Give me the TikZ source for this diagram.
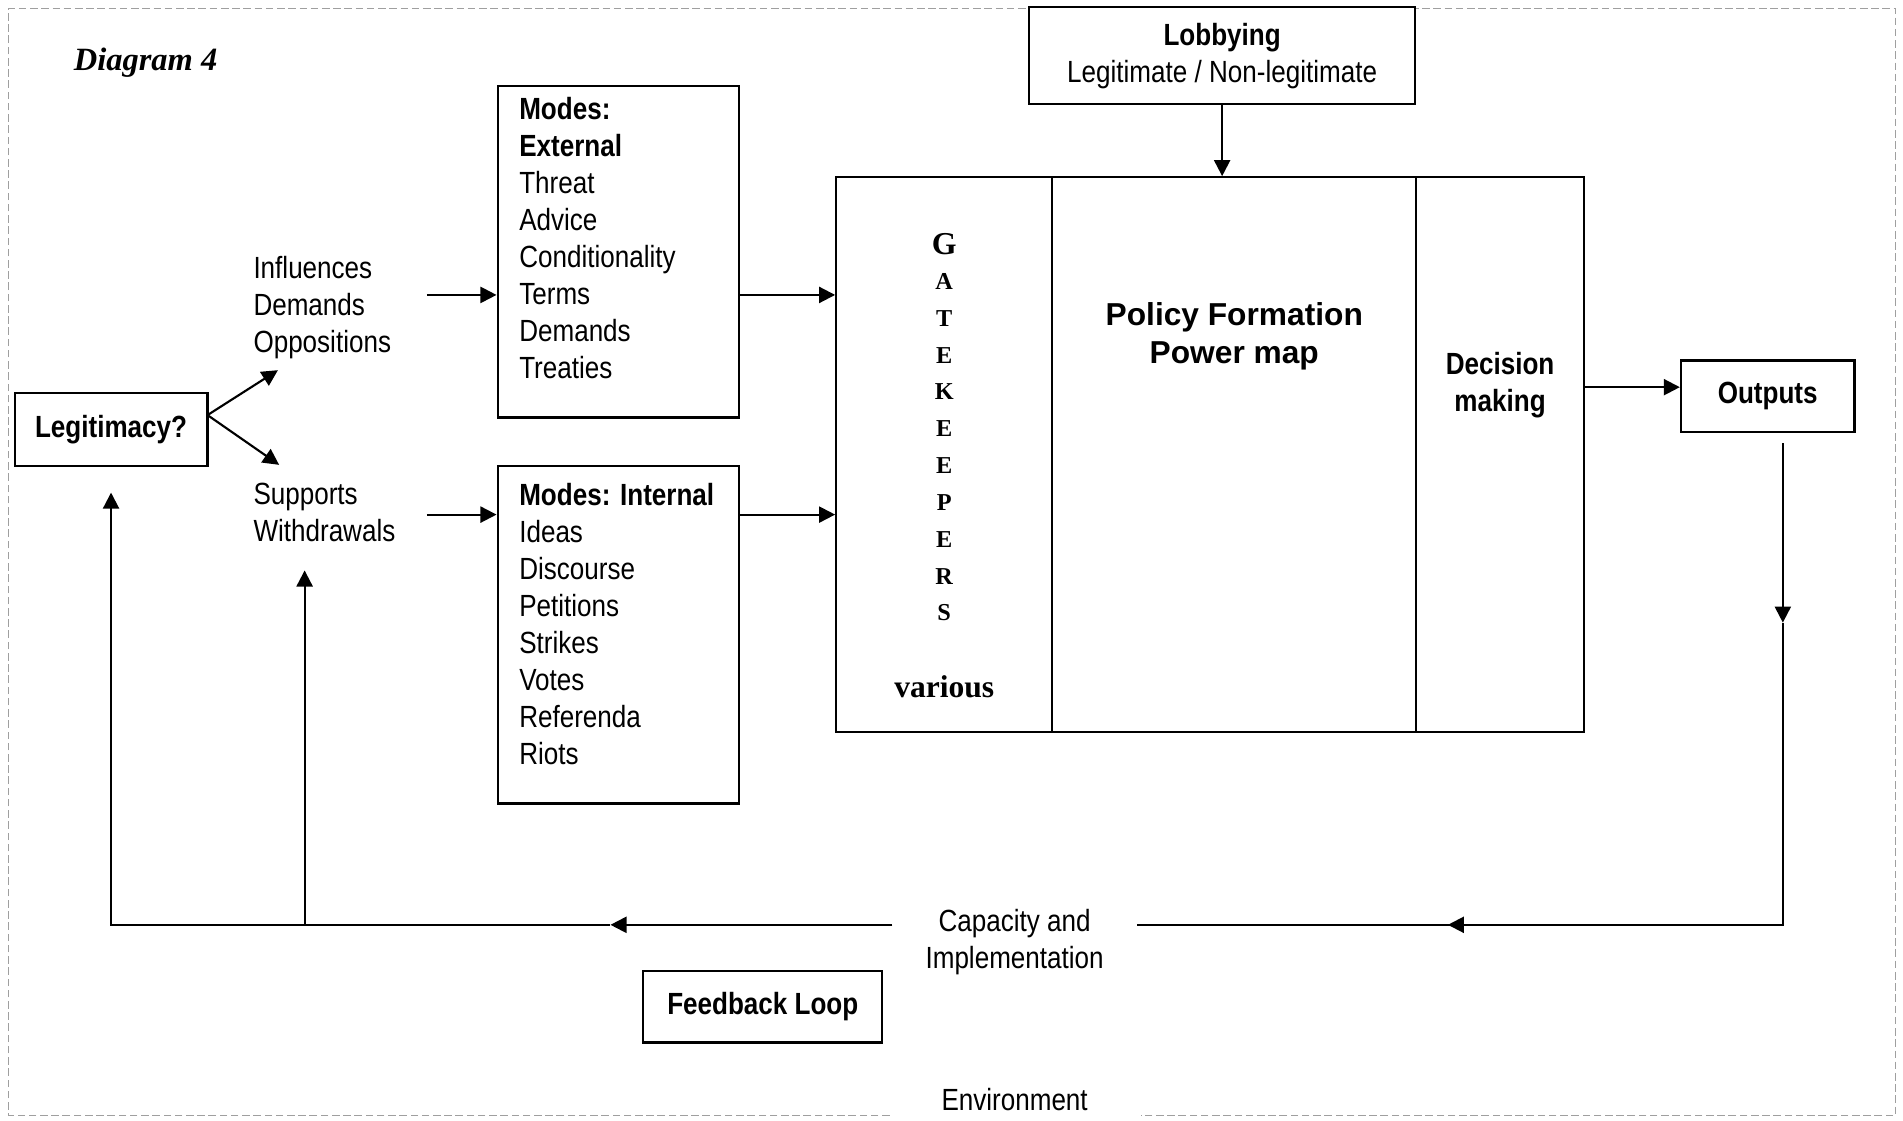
\documentclass[tikz,border=0pt]{standalone}
\usepackage{fontspec}
\setmainfont{Liberation Sans}[FakeStretch=0.85]
\newfontfamily\widesans{Liberation Sans}
\newfontfamily\timesfont{Liberation Serif}
\usetikzlibrary{arrows.meta}

\newcommand{\mainsize}{\fontsize{10.1}{12.2}\selectfont}

\tikzset{
  arr/.style={-{Triangle[length=5.3pt,width=5.3pt]}},
  box/.style={draw, fill=white, inner sep=0pt},
  size/.style 2 args={minimum width=#1*0.4pt, minimum height=#2*0.4pt},
  plain/.style={font=\mainsize},
  bold/.style={font=\mainsize\bfseries},
  txt/.style={inner sep=0pt, align=left, font=\mainsize},
  gk/.style={inner sep=0pt, font=\timesfont\bfseries\fontsize{#1}{#1}\selectfont},
}

\begin{document}
\begin{tikzpicture}[x=0.4pt, y=-0.4pt, line width=0.7pt, every node/.append style={font=\mainsize}]
\useasboundingbox (0,0) rectangle (1568,923);

% frame
\node[plain] (env) at (836,906) {Environment};
\draw[gray!75, line width=0.35pt, dash pattern=on 2.5pt off 1.2pt]
  (733,919) -| (7,7) -| (1562,919) -- (940,919);
\node[anchor=base west, inner sep=0pt, font=\timesfont\bfseries\itshape\fontsize{10.7}{13}\selectfont] (title) at (60,58) {Diagram 4};

% left side
\node[box, size={159}{60}, bold] (legit) at (91.5,354) {Legitimacy?};
\node[txt, text width=56.8pt, anchor=north west] (infl) at (208,210.5) {Influences\\Demands\\Oppositions};
\node[txt, text width=56.8pt, anchor=north west] (supp) at (208,397) {Supports\\Withdrawals};

\node[box, size={199}{273}] (ext) at (509.5,207.5) {};
\node[txt, anchor=north west] (ext-txt) at (427,79.5) {\textbf{Modes:}\\\textbf{External}\\Threat\\Advice\\Conditionality\\Terms\\Demands\\Treaties};
\node[box, size={199}{278}] (int) at (509.5,523) {};
\node[txt, anchor=north west] (int-txt) at (427,397) {\textbf{Modes: Internal}\\Ideas\\Discourse\\Petitions\\Strikes\\Votes\\Referenda\\Riots};

% policy block
\node[box, size={178}{457}] (gate) at (778,374.5) {};
\node[box, size={300}{457}] (policy) at (1017,374.5) {};
\node[box, size={138}{457}] (decide) at (1236,374.5) {};

\node[gk=10.5] (gk0) at (778,201) {G};
\foreach \l [count=\i] in {A,T,E,K,E,E,P,E,R,S}
  \node[gk=8] (gk\i) at (778,201.7+30.33*\i) {\l};
\node[gk=10.4] (various) at (778,566) {various};

\node[align=center, inner sep=0pt, font=\widesans\bfseries\fontsize{10.45}{12.4}\selectfont] (pf) at (1017,277) {Policy Formation\\Power map};
\node[align=center, inner sep=0pt, bold] (dm) at (1236,317) {Decision\\making};

\node[box, size={318}{80}, align=center] (lobby) at (1007,46) {\textbf{Lobbying}\\Legitimate / Non-legitimate};
\node[box, size={143}{59}, bold] (out) at (1456.5,326.5) {Outputs};

% feedback
\node[align=center, inner xsep=10.6pt, inner ysep=0pt] (cap) at (836,776) {Capacity and\\Implementation};
\node[box, size={197}{59}, bold] (fb) at (628.5,829.5) {Feedback Loop};

\coordinate (upper) at (0,243);
\coordinate (lower) at (0,424);
\coordinate (outrow) at (0,319);
\coordinate (fork) at (171,342);
\coordinate (tip-up) at (229,305);
\coordinate (tip-dn) at (230,383);
\coordinate (drop) at (1469,365);
\coordinate (drop-mid) at (1469,513);
\coordinate (corner) at (1469,762);
\coordinate (back-mid) at (1193,762);
\coordinate (left-mid) at (503,762);
\coordinate (supp-tip) at (251,470);

\draw[arr] (fork) -- (tip-up);
\draw[arr] (fork) -- (tip-dn);
\draw[arr] (infl.east |- upper) -- (ext.west |- upper);
\draw[arr] (ext.east |- upper) -- (gate.west |- upper);
\draw[arr] (supp.east |- lower) -- (int.west |- lower);
\draw[arr] (int.east |- lower) -- (gate.west |- lower);
\draw[arr] (lobby.south) -- (lobby.south |- policy.north);
\draw[arr] (decide.east |- outrow) -- (out.west |- outrow);

\draw[arr] (drop) -- (drop-mid);
\draw (drop-mid) -- (corner) -- (cap.east |- corner);
\draw[arr] (corner) -- (back-mid);
\draw[arr] (cap.west |- corner) -- (left-mid);
\draw[arr, shorten >=8.4pt] (left-mid) -| (legit.south);
\draw[arr] (supp-tip |- corner) -- (supp-tip);
\end{tikzpicture}
\end{document}
